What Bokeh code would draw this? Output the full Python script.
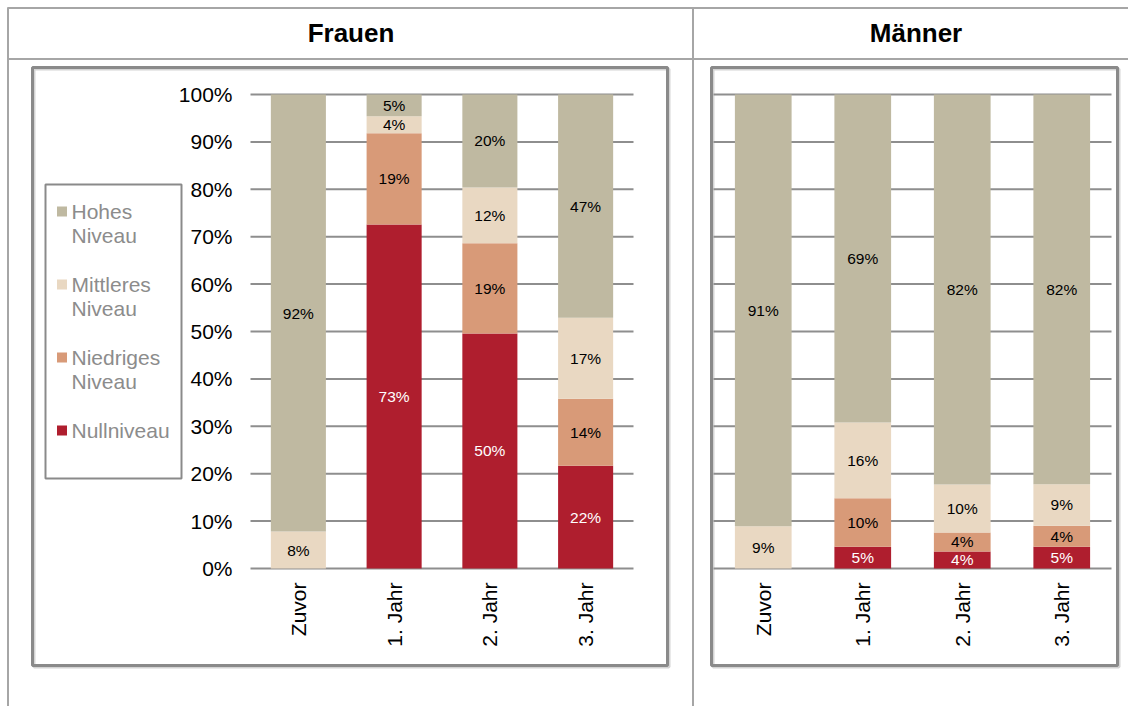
import math
from bokeh.plotting import figure
from bokeh.models import Range1d, ColumnDataSource
from bokeh.core.properties import value
from bokeh.embed import file_html
from bokeh.resources import INLINE

# ---------------- data ----------------
categories = ["Zuvor", "1. Jahr", "2. Jahr", "3. Jahr"]
levels = ["null", "niedrig", "mittel", "hoch"]  # stacked bottom -> top
level_colors = ["#AF1E2E", "#D89A78", "#E9D8C2", "#BFB9A1"]
label_colors = ["white", "black", "black", "black"]
legend_labels = ["Hohes\nNiveau", "Mittleres\nNiveau", "Niedriges\nNiveau", "Nullniveau"]
legend_colors = ["#BFB9A1", "#E9D8C2", "#D89A78", "#AF1E2E"]
panel_titles = ["Frauen", "Männer"]

frauen_null = [0.0, 72.6, 49.6, 21.7]
frauen_niedrig = [0.0, 19.2, 19.0, 14.1]
frauen_mittel = [7.8, 3.6, 11.8, 17.1]
frauen_hoch = [92.2, 4.6, 19.6, 47.1]

maenner_null = [0.0, 4.6, 3.6, 4.6]
maenner_niedrig = [0.0, 10.2, 4.0, 4.4]
maenner_mittel = [8.9, 16.0, 10.1, 8.8]
maenner_hoch = [91.1, 69.2, 82.3, 82.2]

y_ticks = [0, 10, 20, 30, 40, 50, 60, 70, 80, 90, 100]

# ---------------- layout (page pixels) ----------------
W, H = 1128, 706
OX, OY = 0, 0
def fx(px):
    return px - OX
def fy(py):
    return (OY + H) - py

FONT = "Liberation Sans"
GRID_COLOR = "#8e8e8e"
TABLE_COLOR = "#a6a6a6"
BOX_COLOR = "#8a8a8a"

p = figure(width=W, height=H, x_range=Range1d(0, W), y_range=Range1d(0, H),
           x_axis_type=None, y_axis_type=None, toolbar_location=None,
           output_backend="svg", min_border=0, title=None)
p.outline_line_color = None
p.background_fill_color = "white"
p.border_fill_color = "white"

# percentage scale: 0% at page y 568, 100% at page y 94
py0, py100 = 568, 94
ppx = 100.0 / (py0 - py100)
p.extra_y_ranges = {"pct": Range1d(-fy(py0) * ppx, (H - fy(py0)) * ppx)}

# category scales for both panels (plot areas in page px)
plot_x = {"F": (250, 633), "M": (713, 1111)}
ranges = {}
for key, (a, b) in plot_x.items():
    cw = (b - a) / len(categories)
    ranges[key] = Range1d(-fx(a) / cw, (W - fx(a)) / cw)
p.extra_x_ranges = {"xF": ranges["F"], "xM": ranges["M"]}

# ---------------- table lines ----------------
p.segment(x0=[fx(7), fx(7)], x1=[W, W], y0=[fy(7.5), fy(58.5)], y1=[fy(7.5), fy(58.5)],
          line_color=TABLE_COLOR, line_width=2)
p.segment(x0=[fx(7.5), fx(692.5)], x1=[fx(7.5), fx(692.5)], y0=[fy(7), fy(7)], y1=[0, 0],
          line_color=TABLE_COLOR, line_width=2)

# titles
p.text(x=[fx(350.5), fx(915.5)], y=[fy(32), fy(32)], text=panel_titles,
       text_font=value(FONT), text_font_style="bold", text_font_size="26px",
       text_align="center", text_baseline="middle", text_color="black")

# chart boxes (shadow + border)
boxes = [(32, 667, 67, 665), (711, 1117, 67, 665)]
for (l, r, t, b) in boxes:
    p.quad(left=fx(l) + 1.5, right=fx(r) + 1.5, top=fy(t) - 1.5, bottom=fy(b) - 1.5,
           fill_color=None, line_color="#d4d4d4", line_width=3)
    p.quad(left=fx(l), right=fx(r), top=fy(t), bottom=fy(b),
           fill_color=None, line_color=BOX_COLOR, line_width=3)

# ---------------- charts ----------------
panels = [
    ("xF", [frauen_null, frauen_niedrig, frauen_mittel, frauen_hoch], 0.575),
    ("xM", [maenner_null, maenner_niedrig, maenner_mittel, maenner_hoch], 0.57),
]
for rname, series, bw in panels:
    n = len(categories)
    xs = [i + 0.5 for i in range(n)]
    # gridlines
    p.segment(x0=[0] * len(y_ticks), x1=[n] * len(y_ticks), y0=y_ticks, y1=y_ticks,
              line_color=GRID_COLOR, line_width=2, x_range_name=rname, y_range_name="pct")
    data = {"x": xs}
    for lv, s in zip(levels, series):
        data[lv] = s
    src = ColumnDataSource(data)
    p.vbar_stack(levels, x="x", width=bw, color=level_colors, line_color=None,
                 source=src, x_range_name=rname, y_range_name="pct")
    # value labels
    base = [0.0] * n
    for s, lc in zip(series, label_colors):
        lx, ly, lt = [], [], []
        for i, v in enumerate(s):
            if v > 0:
                lx.append(xs[i])
                ly.append(base[i] + v / 2)
                lt.append(f"{v:.0f}%")
            base[i] += v
        p.text(x=lx, y=ly, text=lt, text_font=value(FONT), text_font_size="15.5px",
               text_align="center", text_baseline="middle", text_color=lc,
               x_range_name=rname, y_range_name="pct")
    # category labels
    p.text(x=xs, y=[fy(582)] * n, text=categories, angle=math.pi / 2,
           text_font=value(FONT), text_font_size="21px", text_align="right",
           text_baseline="middle", text_color="black", x_range_name=rname)

# y tick labels (left panel only)
p.text(x=[fx(232)] * len(y_ticks), y=y_ticks, text=[f"{t}%" for t in y_ticks],
       text_font=value(FONT), text_font_size="21px", text_align="right",
       text_baseline="middle", text_color="black", y_range_name="pct")

# ---------------- legend ----------------
p.quad(left=fx(45), right=fx(181), top=fy(184), bottom=fy(478),
       fill_color="white", line_color=BOX_COLOR, line_width=2)
item_y = [211, 284, 357, 430]
sq_x, sq_y, tx, ty, tt = [], [], [], [], []
for lab, iy in zip(legend_labels, item_y):
    sq_x.append(fx(61.5))
    sq_y.append(fy(iy))
    for k, line in enumerate(lab.split("\n")):
        tx.append(fx(71))
        ty.append(fy(iy + 24 * k))
        tt.append(line)
p.rect(x=sq_x, y=sq_y, width=10, height=10, fill_color=legend_colors, line_color=None)
p.text(x=tx, y=ty, text=tt, text_font=value(FONT), text_font_size="21px",
       text_align="left", text_baseline="middle", text_color="#8c8c8c")

open("out.html", "w").write(file_html(p, INLINE))
